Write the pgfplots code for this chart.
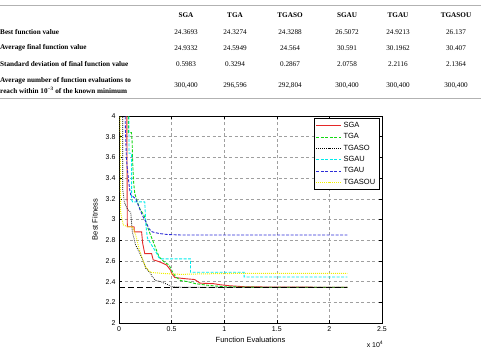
\documentclass[border=0pt]{standalone}
\usepackage{pgfplots}
\pgfplotsset{compat=1.18}
\usepackage{fontspec}
\setmainfont{Liberation Serif}
\setsansfont{Liberation Sans}
\definecolor{cred}{RGB}{228,40,40}
\definecolor{cgreen}{RGB}{20,215,20}
\definecolor{ccyan}{RGB}{0,235,235}
\definecolor{cblue}{RGB}{45,45,215}
\definecolor{cyel}{RGB}{240,240,0}
\newcommand{\tf}{\fontsize{7.2}{8.6}\selectfont}
\begin{document}
\begin{tikzpicture}
\useasboundingbox (0pt,0pt) rectangle (486pt,-349pt);
% ---- table ----
\draw[gray!60, line width=1pt] (0pt,-5.7pt) -- (481pt,-5.7pt);
\draw[gray!60, line width=1pt] (0pt,-98.5pt) -- (481pt,-98.5pt);
\foreach \x/\t in {186/SGA,235/TGA,290/TGASO,347/SGAU,398/TGAU,456/TGASOU}
  \node[font=\tf\bfseries, inner sep=0pt] at (\x pt,-15pt) {\t};
\node[font=\tf\bfseries, anchor=west, inner sep=0pt] at (0pt,-31.7pt) {Best function value};
\node[font=\tf\bfseries, anchor=west, inner sep=0pt] at (0pt,-47.7pt) {Average final function value};
\node[font=\tf\bfseries, anchor=west, inner sep=0pt] at (0pt,-64.3pt) {Standard deviation of final function value};
\node[font=\tf\bfseries, anchor=west, inner sep=0pt] at (0pt,-81pt) {Average number of function evaluations to};
\node[font=\tf\bfseries, anchor=west, inner sep=0pt] at (0pt,-90.5pt) {reach within 10\textsuperscript{−3} of the known minimum};
\foreach \x/\t in {186/24.3693,235/24.3274,290/24.3288,347/26.5072,398/24.9213,456/26.137}
  \node[font=\tf, inner sep=0pt] at (\x pt,-31.7pt) {\t};
\foreach \x/\t in {186/24.9332,235/24.5949,290/24.564,347/30.591,398/30.1962,456/30.407}
  \node[font=\tf, inner sep=0pt] at (\x pt,-47.7pt) {\t};
\foreach \x/\t in {186/0.5983,235/0.3294,290/0.2867,347/2.0758,398/2.2116,456/2.1364}
  \node[font=\tf, inner sep=0pt] at (\x pt,-64.3pt) {\t};
\foreach \x/\t in {186/{300,400},235/{296,596},290/{292,804},347/{300,400},398/{300,400},456/{300,400}}
  \node[font=\tf, inner sep=0pt] at (\x pt,-86pt) {\t};
% ---- chart ----
\begin{axis}[at={(119pt,-323pt)}, anchor=south west, scale only axis,
  width=263pt, height=207pt,
  xmin=0, xmax=2.5, ymin=2, ymax=4,
  xtick={0,0.5,1,1.5,2,2.5},
  ytick={2,2.2,2.4,2.6,2.8,3,3.2,3.4,3.6,3.8,4},
  grid=major,
  major grid style={gray!75, dash pattern=on 3pt off 2.5pt, line width=0.5pt},
  tick align=inside, major tick length=3pt,
  tick style={black, line width=0.5pt},
  axis line style={line width=0.7pt},
  ticklabel style={font=\sffamily\fontsize{7}{8}\selectfont},
  /pgf/number format/assume math mode=true,
  legend style={at={(rel axis cs:0.99,0.99)}, anchor=north east,
    font=\sffamily\fontsize{7.5}{9}\selectfont, inner sep=2pt,
    cells={anchor=west}, row sep=0.6pt},
  legend image post style={xscale=1.45},
]
\addplot[cred, line width=0.9pt] coordinates {
(0.073,4.3)(0.079,2.93)(0.143,2.93)(0.146,2.88)(0.215,2.88)(0.225,2.77)(0.245,2.67)(0.31,2.67)(0.325,2.61)(0.36,2.60)(0.40,2.585)(0.453,2.56)(0.49,2.51)(0.50,2.48)(0.53,2.44)(0.61,2.43)(0.72,2.42)(0.77,2.385)(0.90,2.38)(0.96,2.37)(1.05,2.36)(1.20,2.35)(1.5,2.347)(2.17,2.345)};
\addlegendentry{SGA}
\addplot[cgreen, line width=0.9pt, dash pattern=on 3pt off 1.5pt] coordinates {
(0.089,4.3)(0.089,3.84)(0.118,3.84)(0.125,3.75)(0.13,3.55)(0.14,3.35)(0.15,3.25)(0.175,3.17)(0.20,3.10)(0.238,3.04)(0.27,2.93)(0.30,2.85)(0.35,2.72)(0.38,2.64)(0.43,2.59)(0.476,2.56)(0.51,2.49)(0.54,2.445)(0.587,2.41)(0.65,2.40)(0.73,2.38)(0.84,2.365)(1.0,2.35)(1.3,2.346)(2.17,2.345)};
\addlegendentry{TGA}
\addplot[black, line width=0.8pt, dash pattern=on 0.8pt off 1.2pt] coordinates {
(0.035,4.3)(0.035,3.3)(0.05,3.17)(0.079,3.10)(0.111,3.07)(0.127,2.88)(0.159,2.75)(0.19,2.69)(0.222,2.62)(0.254,2.53)(0.30,2.48)(0.317,2.445)(0.35,2.41)(0.397,2.40)(0.444,2.38)(0.476,2.365)(0.508,2.35)(0.6,2.345)(2.17,2.345)};
\addlegendentry{TGASO}
\addplot[ccyan, line width=0.9pt, dash pattern=on 3pt off 1.5pt] coordinates {
(0.095,4.3)(0.095,3.64)(0.12,3.64)(0.12,3.19)(0.13,3.17)(0.245,3.17)(0.255,2.95)(0.27,2.82)(0.30,2.77)(0.33,2.72)(0.36,2.67)(0.38,2.63)(0.40,2.62)(0.68,2.62)(0.68,2.49)(1.19,2.49)(1.19,2.445)(2.17,2.445)};
\addlegendentry{SGAU}
\addplot[cblue, line width=0.9pt, dash pattern=on 3pt off 1.5pt] coordinates {
(0.057,4.3)(0.06,3.9)(0.07,3.6)(0.079,3.49)(0.10,3.30)(0.111,3.24)(0.159,3.20)(0.19,3.12)(0.222,3.04)(0.254,2.98)(0.286,2.91)(0.317,2.88)(0.38,2.865)(0.46,2.855)(0.6,2.85)(2.17,2.85)};
\addlegendentry{TGAU}
\addplot[cyel, line width=1pt, dash pattern=on 0.9pt off 1.1pt] coordinates {
(0.01,4.3)(0.015,3.07)(0.04,2.95)(0.079,2.93)(0.127,2.93)(0.159,2.85)(0.19,2.72)(0.222,2.62)(0.254,2.54)(0.30,2.49)(0.40,2.48)(0.59,2.47)(0.8,2.475)(1.2,2.48)(2.17,2.48)};
\addlegendentry{TGASOU}
\addplot[black, line width=0.5pt, dash pattern=on 6pt off 3pt, forget plot] coordinates {(0,2.345)(2.17,2.345)};
\end{axis}
\node[font=\sffamily\fontsize{7.5}{9}\selectfont, rotate=90] at (95pt,-219.5pt) {Best Fitness};
\node[font=\sffamily\fontsize{7.5}{9}\selectfont] at (250.5pt,-340pt) {Function Evaluations};
\node[font=\sffamily\fontsize{7}{8}\selectfont, inner sep=0pt] at (375pt,-344pt) {x 10$^{\mathsf{4}}$};
\end{tikzpicture}
\end{document}
